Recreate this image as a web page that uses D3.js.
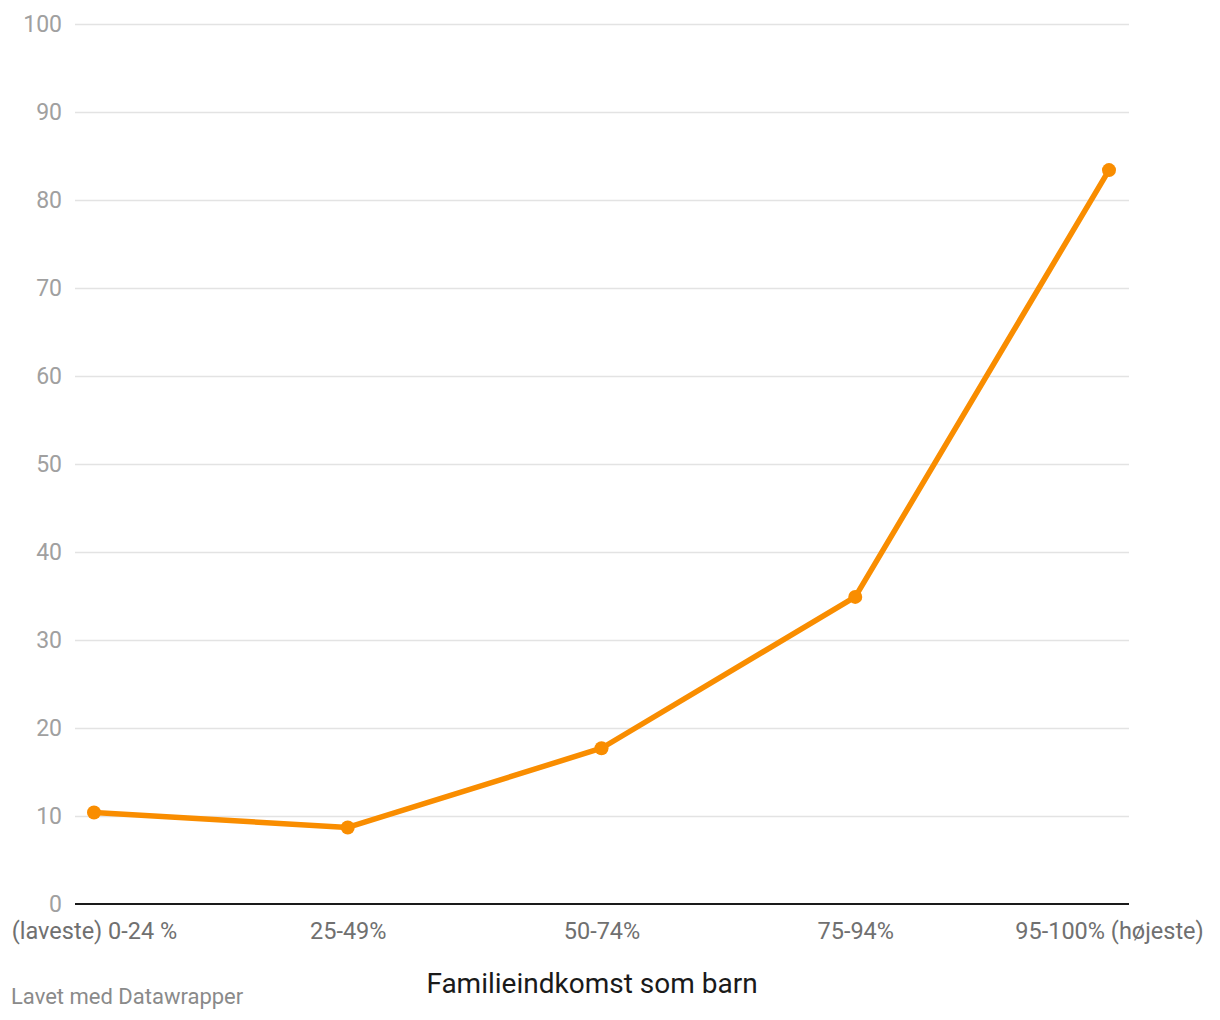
<!DOCTYPE html>
<html><head><meta charset="utf-8">
<script src="https://cdn.jsdelivr.net/npm/d3@7"></script>
<style>body{margin:0;background:#fff;font-family:Roboto,sans-serif}</style>
</head><body>
<svg id="c" width="1220" height="1020"></svg>
<script>
const categories = ["(laveste) 0-24 %", "25-49%", "50-74%", "75-94%", "95-100% (højeste)"];
const values = [10.4, 8.7, 17.7, 34.9, 83.4];
const yTicks = [0, 10, 20, 30, 40, 50, 60, 70, 80, 90, 100];
const xTitle = "Familieindkomst som barn";
const credit = "Lavet med Datawrapper";

const svg = d3.select("#c");
const x = d3.scalePoint().domain(categories).range([94, 1109]);
const y = d3.scaleLinear().domain([0, 100]).range([904, 24]);

const yAxis = d3.axisLeft(y).tickValues(yTicks).tickSize(-(1129 - 75)).tickPadding(13);
const gy = svg.append("g").attr("transform", "translate(75,0)").call(yAxis);
gy.select(".domain").remove();
gy.selectAll(".tick line").attr("stroke", "#e3e3e3").attr("stroke-width", 1.3);
gy.selectAll(".tick text").attr("fill", "#a0a0a0").attr("font-size", 23).attr("font-family", "Roboto");
gy.selectAll(".tick").filter(d => d === 0).select("line").attr("stroke", "none");

svg.append("line").attr("x1", 75).attr("x2", 1129).attr("y1", y(0)).attr("y2", y(0))
  .attr("stroke", "#1a1a1a").attr("stroke-width", 2);

const xAxis = d3.axisBottom(x).tickSize(0).tickPadding(18);
const gx = svg.append("g").attr("transform", `translate(0,${y(0)})`).call(xAxis);
gx.select(".domain").remove();
gx.selectAll(".tick text").attr("fill", "#707070").attr("font-size", 23.5).attr("font-family", "Roboto");

const line = d3.line().x((d, i) => x(categories[i])).y(d => y(d));
svg.append("path").datum(values).attr("d", line).attr("fill", "none")
  .attr("stroke", "#f98d00").attr("stroke-width", 5.5).attr("stroke-linejoin", "round");
svg.selectAll("circle.pt").data(values).enter().append("circle")
  .attr("cx", (d, i) => x(categories[i])).attr("cy", d => y(d)).attr("r", 7).attr("fill", "#f98d00");

svg.append("text").attr("x", 592).attr("y", 993).attr("text-anchor", "middle")
  .attr("font-size", 28).attr("fill", "#1a1a1a").attr("font-family", "Roboto").text(xTitle);
svg.append("text").attr("x", 11).attr("y", 1004)
  .attr("font-size", 22).attr("fill", "#8a8a8a").attr("font-family", "Roboto").text(credit);
</script>
</body></html>
